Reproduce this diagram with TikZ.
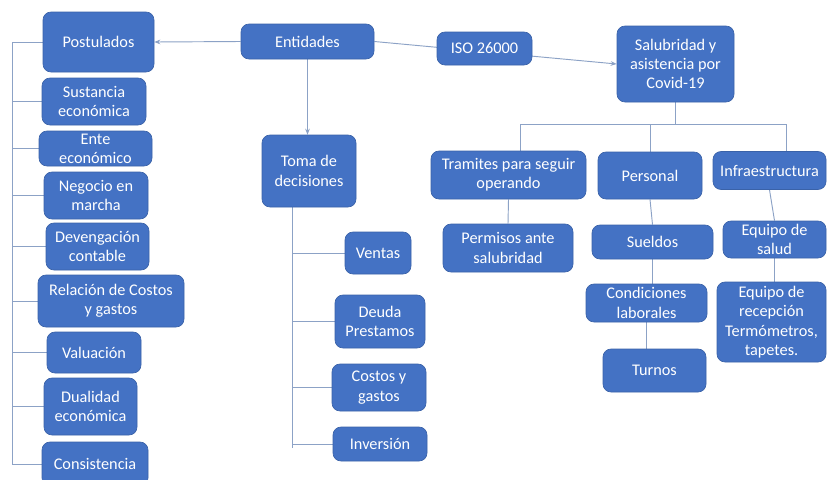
\documentclass[tikz,border=0pt]{standalone}
\usepackage{fontspec}
\setmainfont{Carlito}
\usetikzlibrary{arrows.meta,backgrounds}
\definecolor{boxfill}{HTML}{4472C4}
\definecolor{boxline}{HTML}{3A62A8}
\definecolor{conn}{RGB}{140,162,198}
\begin{document}
\begin{tikzpicture}[x=0.75pt,y=-0.75pt,
  box/.style 2 args={draw=boxline,line width=0.5pt,fill=boxfill,text=white,rounded corners=6pt,
    align=center,inner sep=1pt,minimum width=#1*0.75pt,minimum height=#2*0.75pt,
    font=\fontsize{12.2}{14.5}\selectfont},
  link/.style={draw=conn,line width=0.7pt},
  arr/.style={link,-{Stealth[length=4.5pt,width=3.5pt]}}]
\useasboundingbox (0,0) rectangle (827,479);
\clip (0,0) rectangle (827,479);
% left column
\node[box={111}{60}] (post) at (98.5,42) {Postulados};
\node[box={104}{47}] (sust) at (94,101.5) {Sustancia\\económica};
\node[box={113}{35}] (ente) at (95.5,148.5) {Ente\\económico};
\node[box={104}{47}] (neg) at (96,195.5) {Negocio en\\marcha};
\node[box={103}{47}] (dev) at (97.5,246.5) {Devengación\\contable};
\node[box={146}{52}] (rel) at (111,301) {Relación de Costos\\y gastos};
\node[box={94}{41}] (val) at (94,352.5) {Valuación};
\node[box={93}{57}] (dual) at (90.5,406.5) {Dualidad\\económica};
\node[box={106}{44}] (cons) at (95,464) {Consistencia};
% centre
\node[box={133}{35}] (ent) at (307.5,41.5) {Entidades};
\node[box={94}{72}] (toma) at (309,171) {Toma de\\decisiones};
\node[box={66}{42}] (ventas) at (378,253) {Ventas};
\node[box={90}{53}] (deuda) at (380,321.5) {Deuda\\Prestamos};
\node[box={94}{47}] (costos) at (379,387.5) {Costos y\\gastos};
\node[box={94}{34}] (inv) at (380,444) {Inversión};
% right
\node[box={95}{33}] (iso) at (484.5,48.5) {ISO 26000};
\node[box={117}{76}] (sal) at (675.5,64) {Salubridad y\\asistencia por\\Covid-19};
\node[box={155}{48}] (tram) at (508.5,175) {Tramites para seguir\\operando};
\node[box={104}{47}] (pers) at (650,175.5) {Personal};
\node[box={113}{38}] (infra) at (769.5,170.5) {Infraestructura};
\node[box={130}{48}] (perm) at (508,248) {Permisos ante\\salubridad};
\node[box={121}{34}] (sueldos) at (652.5,242) {Sueldos};
\node[box={121}{38}] (cond) at (646.5,303) {Condiciones\\laborales};
\node[box={103}{43}] (turnos) at (654.5,370.5) {Turnos};
\node[box={103}{37}] (eqs) at (774.5,239.5) {Equipo de\\salud};
\node[box={109}{80}] (eqr) at (771.5,322) {Equipo de\\recepción\\Termómetros,\\tapetes.};
% coordinates
\coordinate (lsp) at (12,42);
\coordinate (tsp) at (292.5,448);
\coordinate (b1) at (520,124);
\coordinate (b2) at (650,124);
\coordinate (b3) at (786,124);
\begin{pgfonlayer}{background}
\fill[white] (0,0) rectangle (827,479);
% left spine
\draw[link] (post.west) -- (post.west -| lsp) -- (cons.west -| lsp) -- (cons.west);
\foreach \n in {sust,ente,neg,dev,rel,val,dual}
  \draw[link] (\n.west) -- (\n.west -| lsp);
% Entidades arrows
\draw[arr] (ent.west) -- (post.east);
\draw[arr] (ent.south) -- (ent.south |- toma.north);
\draw[arr] (ent.east) -- (sal.west);
% toma spine
\draw[link] (toma.south -| tsp) -- (tsp);
\foreach \n in {ventas,deuda,costos,inv}
  \draw[link] (\n.west) -- (\n.west -| tsp);
% salubridad bus
\draw[link] (sal.south) -- (sal.south |- b1);
\draw[link] (b1) -- (b3);
\draw[link] (b1) -- (b1 |- tram.north);
\draw[link] (b2) -- (b2 |- pers.north);
\draw[link] (b3) -- (b3 |- infra.north);
\draw[link] (tram.south) -- (perm.north);
\draw[link] (pers.south) -- (sueldos.north);
\draw[link] (sueldos.south) -- (sueldos.south |- cond.north);
\draw[link] (cond.south) -- (cond.south |- turnos.north);
\draw[link] (infra.south) -- (eqs.north);
\draw[link] (eqs.south) -- (eqs.south |- eqr.north);
\end{pgfonlayer}
\end{tikzpicture}
\end{document}
